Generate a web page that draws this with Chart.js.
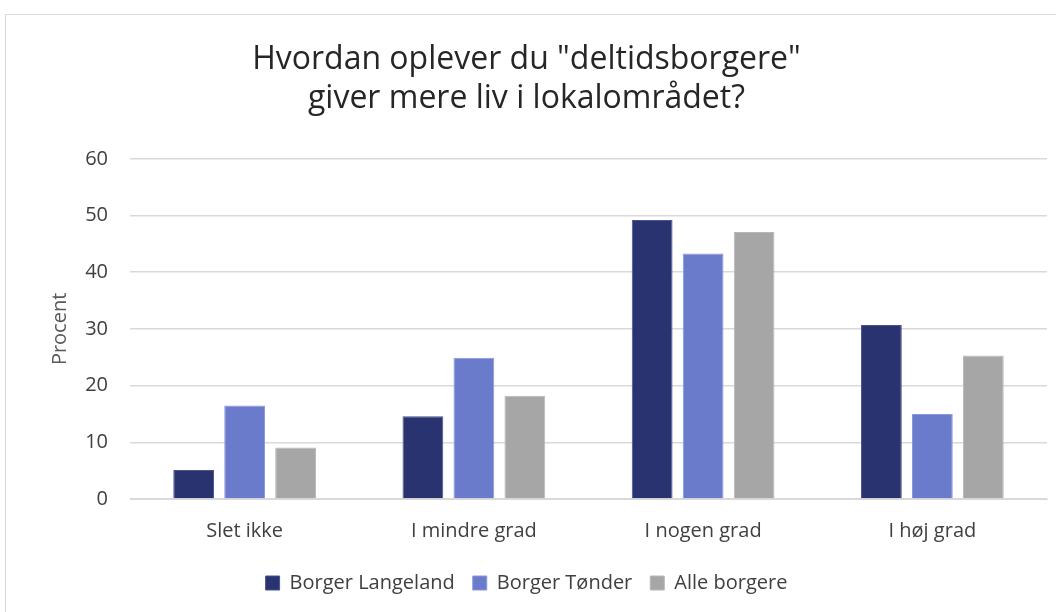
<!DOCTYPE html>
<html>
<head>
<meta charset="utf-8">
<script src="https://cdn.jsdelivr.net/npm/chart.js@4/dist/chart.umd.min.js"></script>
<style>
  body { margin: 0; background: #fff; }
  #frame {
    position: absolute; left: 5px; top: 14px;
    width: 1060px; height: 610px;
    border: 1px solid #d9d9d9; box-sizing: border-box;
  }
  #wrap { position: absolute; left: 0; top: 0; width: 1045px; height: 596px; }
</style>
</head>
<body>
<div id="frame"><div id="wrap"><canvas id="gradeChart"></canvas></div></div>
<script>
var categories = ['Slet ikke', 'I mindre grad', 'I nogen grad', 'I høj grad'];
var langeland = [5.1, 14.6, 49.2, 30.7];
var tonder = [16.5, 24.9, 43.3, 15.0];
var alleBorgere = [9.1, 18.2, 47.1, 25.3];
var yTicks = [0, 10, 20, 30, 40, 50, 60];

var fontFamily = '"Open Sans", Lato, sans-serif';

var gradeChartConfig = {
    type: 'bar',
    data: {
        labels: categories,
        datasets: [{
            label: 'Borger Langeland',
            data: langeland,
            backgroundColor: '#29336f',
            borderColor: '#4a5290',
            borderWidth: 1
        }, {
            label: 'Borger Tønder',
            data: tonder,
            backgroundColor: '#6a7bcb',
            borderColor: '#8a98dc',
            borderWidth: 1
        }, {
            label: 'Alle borgere',
            data: alleBorgere,
            backgroundColor: '#a6a6a6',
            borderColor: '#b8b8b8',
            borderWidth: 1
        }]
    },
    options: {
        responsive: true,
        maintainAspectRatio: false,
        animation: false,
        categoryPercentage: 0.667,
        barPercentage: 0.8,
        layout: {
            padding: { left: 0, right: 4, top: 26, bottom: 8 }
        },
        plugins: {
            title: {
                display: true,
                text: ['Hvordan oplever du "deltidsborgere"', 'giver mere liv i lokalområdet?'],
                color: '#262626',
                font: { family: fontFamily, size: 32, weight: 'normal' },
                lineHeight: 1.4,
                padding: { top: 0, bottom: 41 }
            },
            legend: {
                position: 'bottom',
                labels: {
                    color: '#404040',
                    font: { family: fontFamily, size: 20 },
                    boxWidth: 14,
                    boxHeight: 14,
                    padding: 18
                }
            },
            tooltip: { enabled: false }
        },
        scales: {
            x: {
                grid: { display: false },
                border: { display: true, color: '#d9d9d9' },
                ticks: {
                    color: '#404040',
                    font: { family: fontFamily, size: 20 },
                    padding: 12
                }
            },
            y: {
                min: 0,
                max: 60,
                afterBuildTicks: function(axis) {
                    axis.ticks = yTicks.map(function(v) { return { value: v }; });
                },
                afterFit: function(axis) {
                    axis.width = 124;
                },
                grid: { color: '#d9d9d9', lineWidth: 1.5, drawTicks: false },
                border: { display: false },
                ticks: {
                    color: '#404040',
                    font: { family: fontFamily, size: 20 },
                    padding: 22
                },
                title: {
                    display: true,
                    text: 'Procent',
                    color: '#595959',
                    font: { family: fontFamily, size: 20 },
                    padding: { top: 42, bottom: 0 }
                }
            }
        }
    }
};

var ctx = document.getElementById('gradeChart').getContext('2d');
window.gradeChart = new Chart(ctx, gradeChartConfig);
</script>
</body>
</html>
